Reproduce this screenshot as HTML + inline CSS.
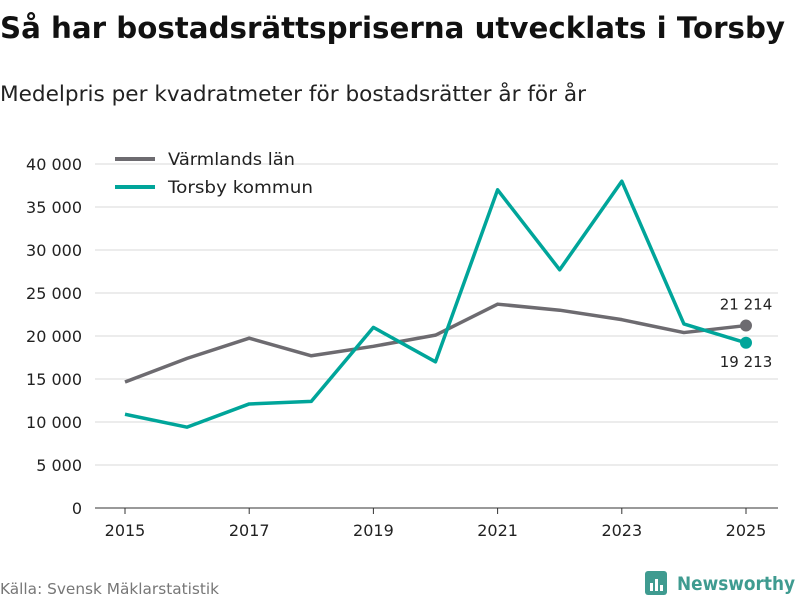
<!DOCTYPE html>
<html><head><meta charset="utf-8"><style>
body{margin:0;width:800px;height:600px;background:#fff;font-family:"DejaVu Sans","Liberation Sans",sans-serif;overflow:hidden}
</style></head><body>
<svg width="800" height="600" xmlns="http://www.w3.org/2000/svg" id="chart">
<text x="0" y="38" font-size="29" font-weight="bold" fill="#111" textLength="785" lengthAdjust="spacingAndGlyphs">Så har bostadsrättspriserna utvecklats i Torsby</text>
<text x="0" y="101" font-size="21.5" fill="#222" textLength="586" lengthAdjust="spacingAndGlyphs">Medelpris per kvadratmeter för bostadsrätter år för år</text>
<g id="grid"></g><g id="series"></g>
<g>
<line x1="115" y1="159" x2="155" y2="159" stroke="#6d6b70" stroke-width="4"/>
<text x="168" y="165" font-size="17" fill="#222" textLength="127" lengthAdjust="spacingAndGlyphs">Värmlands län</text>
<line x1="115" y1="187" x2="155" y2="187" stroke="#00a59a" stroke-width="4"/>
<text x="168" y="193" font-size="17" fill="#222" textLength="145" lengthAdjust="spacingAndGlyphs">Torsby kommun</text>
</g>
<text x="0" y="594" font-size="15" fill="#777" textLength="219" lengthAdjust="spacingAndGlyphs">Källa: Svensk Mäklarstatistik</text>
<g>
<rect x="645" y="571" width="22" height="24" rx="3" fill="#3f9b90"/>
<rect x="650" y="583" width="3" height="8" fill="#fff"/><rect x="655" y="579" width="3" height="12" fill="#fff"/><rect x="660" y="585" width="3" height="6" fill="#fff"/>
<text x="677" y="590" font-size="19" font-weight="bold" fill="#3f9b90" textLength="118" lengthAdjust="spacingAndGlyphs">Newsworthy</text>
</g>
</svg>
<script>
const years=[2015,2016,2017,2018,2019,2020,2021,2022,2023,2024,2025];
const varmland=[14650,17400,19750,17700,18800,20100,23700,23000,21900,20400,21214];
const torsby=[10900,9400,12100,12400,21000,17000,37000,27700,38000,21400,19213];
const yTicks=[0,5000,10000,15000,20000,25000,30000,35000,40000];
const xTicks=[2015,2017,2019,2021,2023,2025];
const NS="http://www.w3.org/2000/svg";
const x=v=>125+(v-2015)*62.1;
const y=v=>508-v*0.0086;
const fmt=v=>v>=1000?Math.floor(v/1000)+" "+String(v%1000).padStart(3,"0"):String(v);
function mk(t,a,p){const e=document.createElementNS(NS,t);for(const k in a)e.setAttribute(k,a[k]);p.appendChild(e);return e;}
const g=document.getElementById("grid"),s=document.getElementById("series");
yTicks.forEach(v=>{
 const l=mk("line",{x1:95,x2:778,y1:y(v),y2:y(v),stroke:v===0?"#333":"#d9d9d9","stroke-width":1},g);
 
 
 const t=mk("text",{x:82,y:y(v)+6,"font-size":16,fill:"#222","text-anchor":"end"},g);t.textContent=fmt(v);
 
 
});
xTicks.forEach(v=>{
 const l=mk("line",{x1:x(v),x2:x(v),y1:508,y2:514,stroke:"#333"},g);
 
 
 const t=mk("text",{x:x(v),y:536,"font-size":16,fill:"#222","text-anchor":"middle"},g);t.textContent=v;
 
 
});
function line(arr,col,name,ly){
 const p=mk("polyline",{points:arr.map((v,i)=>x(years[i])+","+y(v)).join(" "),fill:"none",stroke:col,"stroke-width":3.5,"stroke-linejoin":"round"},s);
 
 
 const last=arr[arr.length-1];
 const c=mk("circle",{cx:x(years[years.length-1]),cy:y(last),r:6,fill:col},s);
 
 
 const t=mk("text",{x:x(years[years.length-1]),y:y(last)+ly,"font-size":15,fill:"#222","text-anchor":"middle"},s);t.textContent=fmt(last);
 
 
}
line(varmland,"#6d6b70","varmland",-16);
line(torsby,"#00a59a","torsby",24);
</script>
</body></html>
